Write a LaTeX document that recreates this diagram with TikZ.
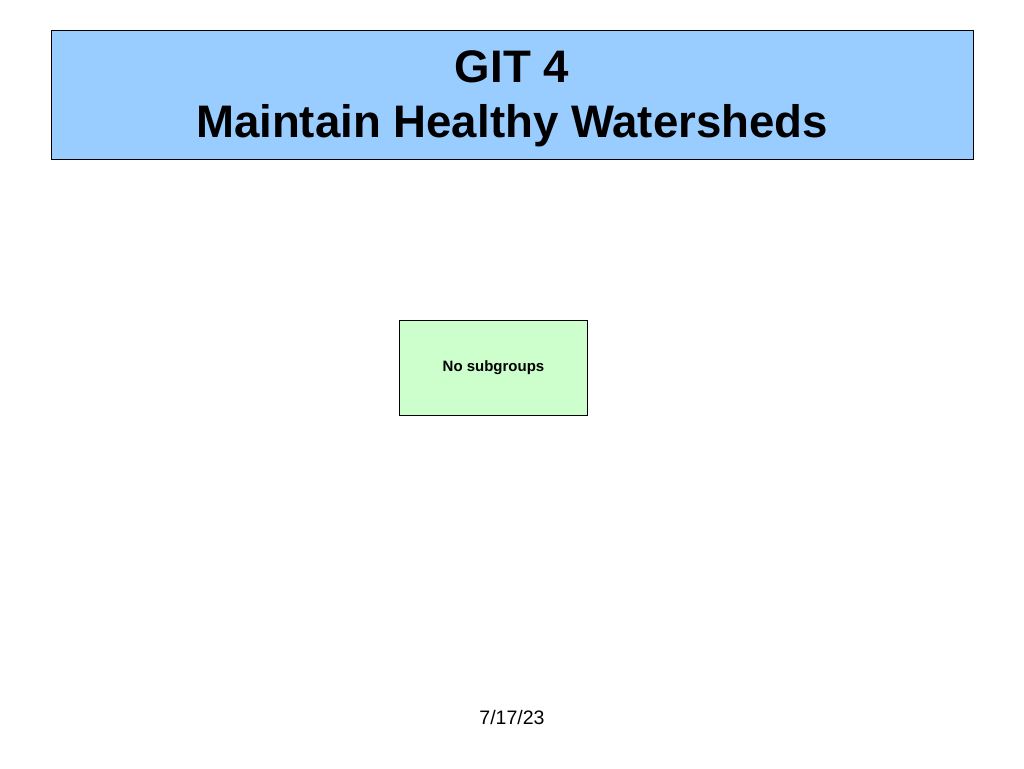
\documentclass[tikz,border=0pt]{standalone}
\usepackage{fontspec}
\setmainfont{Liberation Sans}
\usetikzlibrary{positioning}
\definecolor{titleblue}{RGB}{153,204,255}
\definecolor{groupgreen}{RGB}{204,255,204}

\begin{document}
\begin{tikzpicture}[x=1pt,y=-1pt]
    \useasboundingbox[fill=white] (0,0) rectangle (1024,768);
    % Titolo
    \node[rectangle,draw=black,fill=titleblue,minimum width=922pt,minimum height=129pt,line width=1pt,anchor=north west] (titlebox) at (51,30) {};
    \node[align=center,font=\fontsize{45.6}{55}\selectfont\bfseries] (title) at (512,99) {GIT 4\\Maintain Healthy Watersheds};

    % Sottogruppi
    \node[rectangle,draw=black,fill=groupgreen,minimum width=188pt,minimum height=95pt,line width=0.8pt,font=\fontsize{15}{18}\selectfont\bfseries] (subgroups) at (493.5,367.5) {No subgroups};

    % Data
    \node[font=\fontsize{19.5}{23}\selectfont] (date) at (512,718) {7/17/23};
\end{tikzpicture}
\end{document}
